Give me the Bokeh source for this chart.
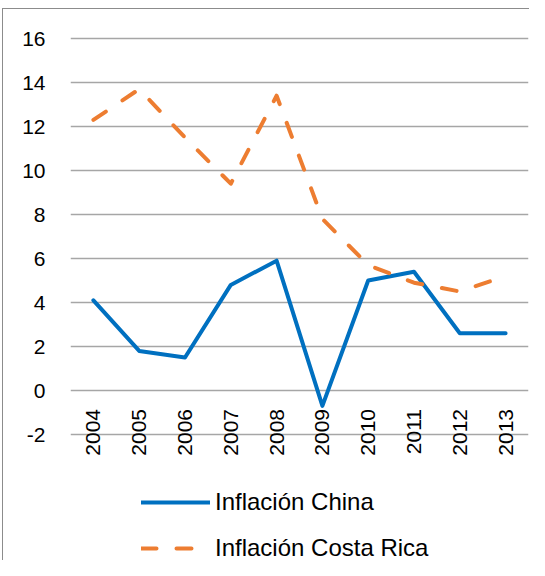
import numpy as np
from bokeh.plotting import figure
from bokeh.models import FactorRange, Range1d, FixedTicker, Legend, LegendItem, Label
from bokeh.core.properties import value
from bokeh.embed import file_html
from bokeh.resources import INLINE

# ---- data ----
years = ["2004", "2005", "2006", "2007", "2008", "2009", "2010", "2011", "2012", "2013"]
china = [4.1, 1.8, 1.5, 4.8, 5.9, -0.7, 5.0, 5.4, 2.6, 2.6]
costa_rica = [12.3, 13.7, 11.5, 9.4, 13.4, 7.8, 5.7, 4.9, 4.5, 5.2]
y_ticks = [-2, 0, 2, 4, 6, 8, 10, 12, 14, 16]
series_names = ["Inflación China", "Inflación Costa Rica"]
title_text = "Costa Rica y China"
axis_cross = 0

BLUE = "#0070C0"
ORANGE = "#ED7D31"
FONT = "Liberation Sans"
BORDER = "#8c8c8c"

p = figure(width=529, height=560, output_backend="svg", toolbar_location=None,
           x_range=FactorRange(factors=years, range_padding=0),
           y_range=Range1d(-7.727, 16.364),
           min_border_left=70, min_border_right=1, min_border_top=30, min_border_bottom=0)
p.outline_line_color = None
p.background_fill_color = "white"
p.border_fill_color = None
# chart-area border: left and top edges (the rest runs off the picture)
p.styles = {
    "background-color": "white",
    "background-image": f"linear-gradient({BORDER},{BORDER}), linear-gradient({BORDER},{BORDER})",
    "background-size": "1px 100%, 100% 1px",
    "background-position": "2px 8px, 2px 8px",
    "background-repeat": "no-repeat",
}

p.xaxis.visible = False
p.xgrid.visible = False

p.yaxis.ticker = FixedTicker(ticks=y_ticks)
p.ygrid.ticker = FixedTicker(ticks=y_ticks)
p.yaxis.major_label_overrides = {t: str(t) for t in y_ticks}
p.ygrid.grid_line_color = "#a6a6a6"
p.ygrid.grid_line_width = 1.4
p.yaxis.axis_line_color = None
p.yaxis.major_tick_line_color = None
p.yaxis.minor_tick_line_color = None
p.yaxis.major_tick_out = 0
p.yaxis.major_tick_in = 0
p.yaxis.major_label_standoff = 25
p.yaxis.major_label_text_font = FONT
p.yaxis.major_label_text_font_size = "21px"
p.yaxis.major_label_text_color = "black"

r_china = p.line(x=years, y=china, line_color=BLUE, line_width=4, line_join="round",
                 line_cap="round")
r_cr = p.line(x=years, y=costa_rica, line_color=ORANGE, line_width=4, line_join="round",
              line_cap="round", line_dash="15 20")

# category labels sitting under the zero line
p.text(x=years, y=[axis_cross] * len(years), text=years, angle=np.pi / 2,
       text_align="right", text_baseline="middle", y_offset=18.5,
       text_font=value(FONT), text_font_size="21px", text_color="black")

legend = Legend(items=[LegendItem(label=series_names[0], renderers=[r_china]),
                       LegendItem(label=series_names[1], renderers=[r_cr])],
                location=(71, -2), orientation="vertical",
                glyph_width=69, glyph_height=20, label_height=20, spacing=18,
                padding=0, margin=0, border_line_color=None, background_fill_alpha=0,
                label_text_font=FONT, label_text_font_size="24px", label_standoff=5,
                label_text_color="black")
p.add_layout(legend)

# title sits above the chart box, in the thin band at the top of the picture
title = Label(x=10, y=7.2, x_units="canvas", y_units="canvas", text=title_text,
              text_font="Liberation Serif", text_font_size="10px",
              text_baseline="alphabetic", text_align="left", text_color="black")
p.add_layout(title)

open("out.html", "w").write(file_html(p, INLINE))
